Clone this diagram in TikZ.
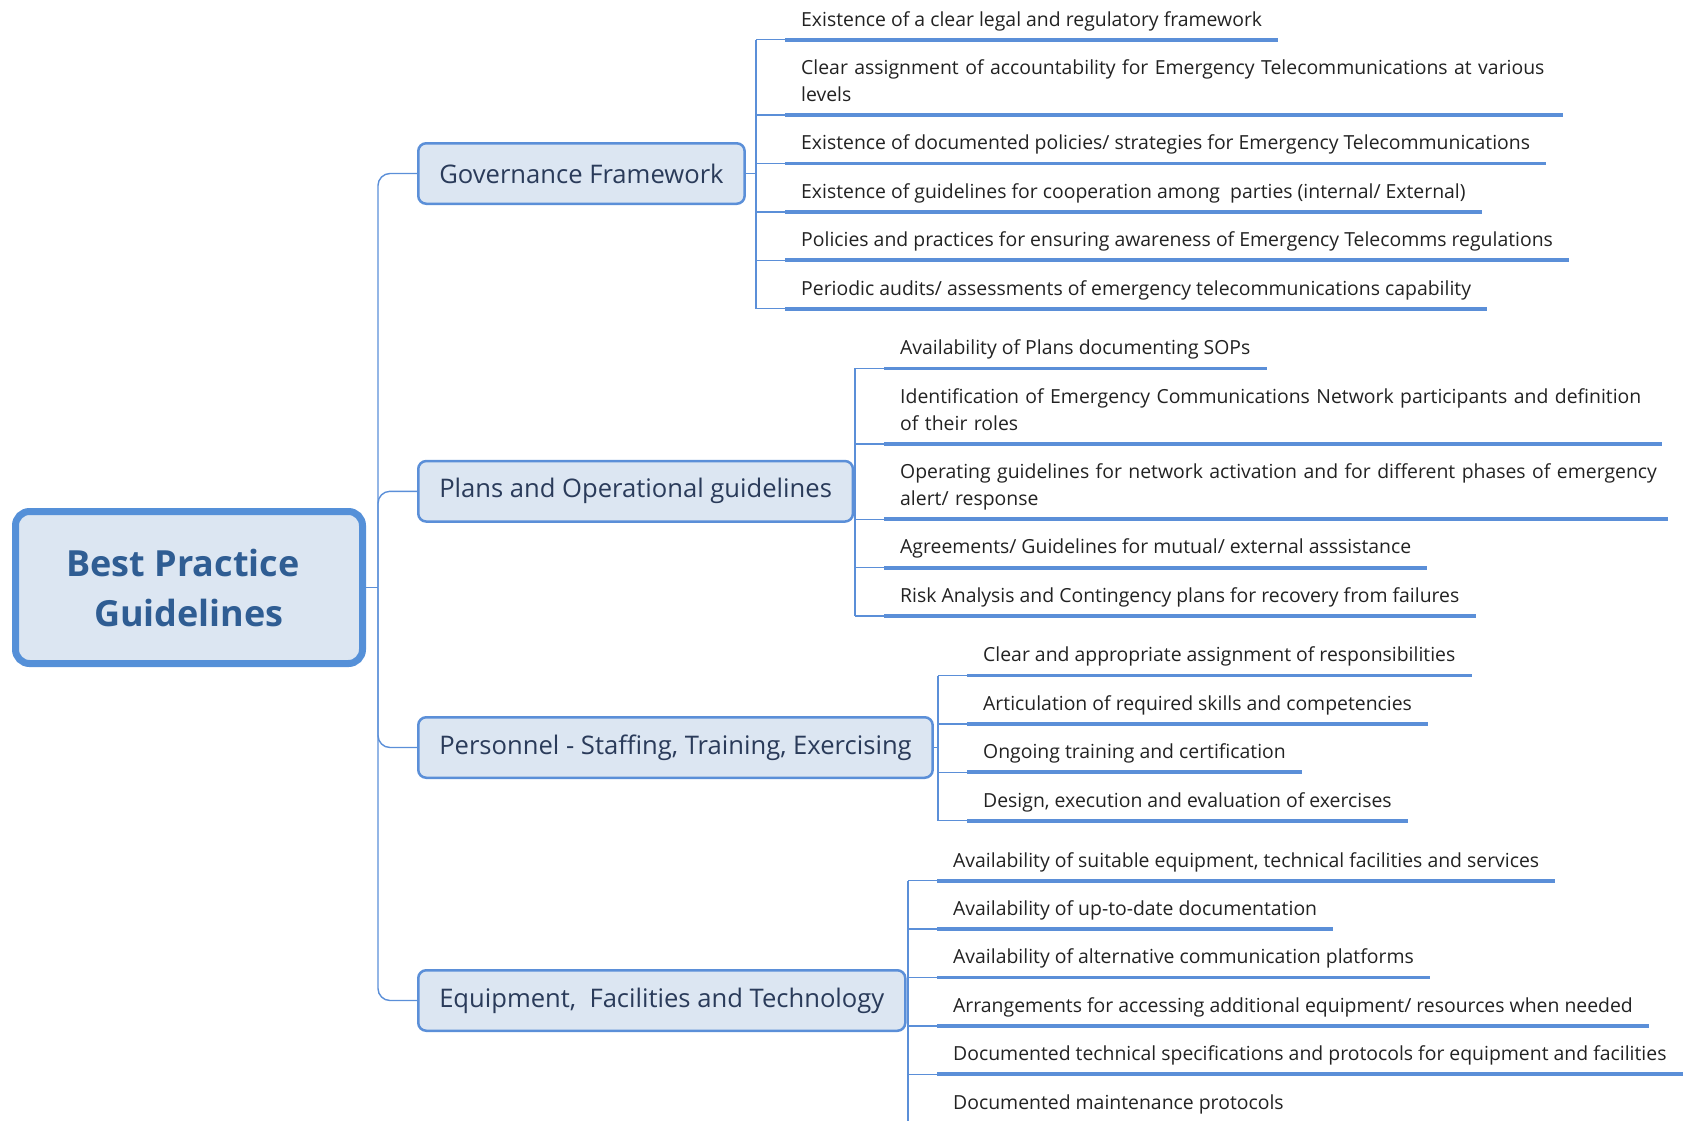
\documentclass[tikz,border=0pt]{standalone}
\usepackage{fontspec}
\setmainfont{Open Sans}
\usetikzlibrary{positioning}
\definecolor{boxfill}{HTML}{DCE6F2}
\definecolor{rootline}{HTML}{5590D8}
\definecolor{linkblue}{HTML}{5B8FD8}
\definecolor{roottext}{HTML}{2F5D93}
\definecolor{branchtext}{HTML}{2A3B5A}
\definecolor{leaftext}{HTML}{222222}

\begin{document}
\begin{tikzpicture}[ -, x=1pt, y=-1pt, node distance = 0pt,
                    auto, main/.style = {draw=rootline, line width=7pt, fill=boxfill,
                      rounded corners=14pt, minimum width=347pt, minimum height=152pt,
                      align=center, text=roottext, font=\fontsize{36}{50}\selectfont\bfseries},
                    branch/.style = {draw=linkblue, line width=2.5pt, fill=boxfill,
                      rounded corners=8pt, minimum height=60.5pt, inner xsep=21pt,
                      text=branchtext, font=\fontsize{25.6}{32}\selectfont, anchor=west},
                    leaf/.style = {inner xsep=16pt, inner ysep=0pt, text height=34.5pt,
                      text depth=13.5pt, text=leaftext, font=\fontsize{19.4}{27}\selectfont},
                    leaftwo/.style = {leaf, text depth=40.5pt, text width=746pt, align=left},
                    conn/.style = {draw=linkblue, line width=1.4pt},
                    uline/.style = {draw=linkblue, line width=3.8pt}]
\useasboundingbox (0,0) rectangle (1684,1120);
\node[main] (root) at (189,587.5) {Best Practice\hspace*{12pt}\\Guidelines};
\coordinate (trunk) at (378,587.5);
\node[branch] (gov) at (417,173.5) {Governance Framework};
\node[branch] (plan) at (417,491.3) {Plans and Operational guidelines};
\node[branch] (staff) at (417,747.5) {Personnel - Staffing, Training, Exercising};
\node[branch] (equip) at (417,1000.5) {Equipment, \ Facilities and Technology};
% governance
\node[leaf, anchor=south west] (g1) at (785,39.7) {Existence of a clear legal and regulatory framework};
\node[leaftwo, anchor=north west] (g2) at (g1.south west) {\mbox{Clear assignment of accountability for Emergency Telecommunications at various}\\levels};
\node[leaf, anchor=north west] (g3) at (g2.south west) {Existence of documented policies/ strategies for Emergency Telecommunications};
\node[leaf, anchor=north west] (g4) at (g3.south west) {Existence of guidelines for cooperation among \ parties (internal/ External)};
\node[leaf, anchor=north west] (g5) at (g4.south west) {Policies and practices for ensuring awareness of Emergency Telecomms regulations};
\node[leaf, anchor=north west] (g6) at (g5.south west) {Periodic audits/ assessments of emergency telecommunications capability};
% plans
\node[leaf, anchor=south west] (p1) at (884,368.4) {Availability of Plans documenting SOPs};
\node[leaftwo, anchor=north west] (p2) at (p1.south west) {\mbox{Identification of Emergency Communications Network participants and definition}\\of their roles};
\node[leaftwo, anchor=north west, text width=752pt] (p3) at (p2.south west) {\mbox{Operating guidelines for network activation and for different phases of emergency}\\alert/ response};
\node[leaf, anchor=north west] (p4) at (p3.south west) {Agreements/ Guidelines for mutual/ external asssistance};
\node[leaf, anchor=north west] (p5) at (p4.south west) {Risk Analysis and Contingency plans for recovery from failures};
% personnel
\node[leaf, anchor=south west] (s1) at (967,675.5) {Clear and appropriate assignment of responsibilities};
\node[leaf, anchor=north west] (s2) at (s1.south west) {Articulation of required skills and competencies};
\node[leaf, anchor=north west] (s3) at (s2.south west) {Ongoing training and certification};
\node[leaf, anchor=north west] (s4) at (s3.south west) {Design, execution and evaluation of exercises};
% equipment
\node[leaf, anchor=south west] (e1) at (937,880.7) {Availability of suitable equipment, technical facilities and services};
\node[leaf, anchor=north west] (e2) at (e1.south west) {Availability of up-to-date documentation};
\node[leaf, anchor=north west] (e3) at (e2.south west) {Availability of alternative communication platforms};
\node[leaf, anchor=north west] (e4) at (e3.south west) {Arrangements for accessing additional equipment/ resources when needed};
\node[leaf, anchor=north west] (e5) at (e4.south west) {Documented technical specifications and protocols for equipment and facilities};
\node[leaf, anchor=north west] (e6) at (e5.south west) {Documented maintenance protocols};
% trunk
\draw[conn] (root.east) -- (trunk);
\foreach \b in {gov,plan,staff,equip}
  \draw[conn, rounded corners=12pt] (trunk) |- (\b.west);
% buses
\coordinate (govbus) at (756,173.5);
\coordinate (planbus) at (855,491.3);
\coordinate (staffbus) at (938,747.5);
\coordinate (equipbus) at (908,1000.5);
\draw[conn] (gov.east) -- (govbus) (plan.east) -- (planbus)
  (staff.east) -- (staffbus) (equip.east) -- (equipbus);
\draw[conn] (govbus |- g1.south) -- (govbus |- g6.south);
\draw[conn] (planbus |- p1.south) -- (planbus |- p5.south);
\draw[conn] (staffbus |- s1.south) -- (staffbus |- s4.south);
\draw[conn] (equipbus |- e1.south) -- (equipbus |- e6.south);
\foreach \n in {g1,g2,g3,g4,g5,g6} \draw[conn] (govbus |- \n.south) -- (\n.south west);
\foreach \n in {p1,p2,p3,p4,p5} \draw[conn] (planbus |- \n.south) -- (\n.south west);
\foreach \n in {s1,s2,s3,s4} \draw[conn] (staffbus |- \n.south) -- (\n.south west);
\foreach \n in {e1,e2,e3,e4,e5,e6} \draw[conn] (equipbus |- \n.south) -- (\n.south west);
% underlines
\foreach \n in {g1,g2,g3,g4,g5,g6,p1,p2,p3,p4,p5,s1,s2,s3,s4,e1,e2,e3,e4,e5,e6}
  \draw[uline] (\n.south west) -- (\n.south east);
\end{tikzpicture}
\end{document}
